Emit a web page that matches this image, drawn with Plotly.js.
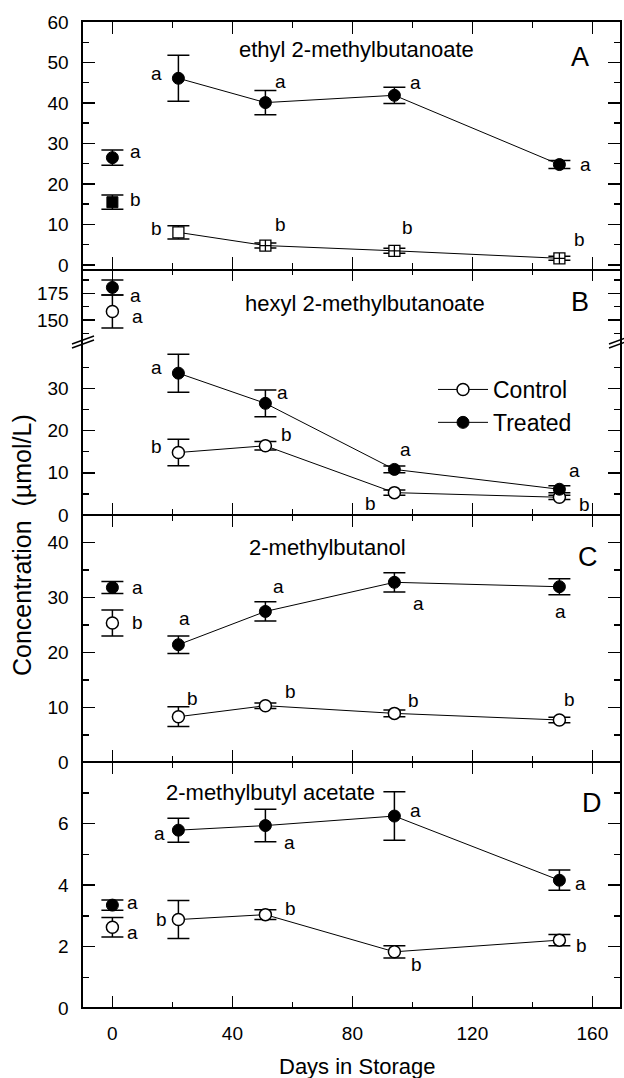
<!DOCTYPE html>
<html>
<head>
<meta charset="utf-8">
<script src="https://cdn.plot.ly/plotly-3.0.1.min.js"></script>
<style>html,body{margin:0;padding:0;background:#fff;}#chart{width:624px;height:1078px;}</style>
</head>
<body>
<div id="chart"></div>
<script>
// ---------------- data ----------------
const days = [0, 22, 51, 94, 149];

// Panel A: ethyl 2-methylbutanoate
const aTreated = [26.5, 46.1, 40.1, 41.9, 24.8];
const aTreatedErr = [1.9, 5.7, 3.0, 2.0, 1.0];
const aControl = [15.5, 8.05, 4.8, 3.5, 1.65];
const aControlErr = [1.75, 1.65, 0.6, 0.6, 0.5];
const aTreatedLetters = ['a', 'a', 'a', 'a', 'a'];
const aControlLetters = ['b', 'b', 'b', 'b', 'b'];

// Panel B: hexyl 2-methylbutanoate
const bTreated = [180.5, 33.6, 26.45, 10.8, 6.1];
const bTreatedErr = [7, 4.5, 3.15, 0.8, 0.8];
const bControl = [158, 14.8, 16.4, 5.3, 4.2];
const bControlErr = [15.5, 3.15, 1.0, 0.6, 0.5];
const bTreatedLetters = ['a', 'a', 'a', 'a', 'a'];
const bControlLetters = ['a', 'b', 'b', 'b', 'b'];

// Panel C: 2-methylbutanol
const cTreated = [31.8, 21.4, 27.45, 32.75, 31.95];
const cTreatedErr = [1.1, 1.6, 1.75, 1.75, 1.45];
const cControl = [25.35, 8.3, 10.3, 8.9, 7.7];
const cControlErr = [2.35, 1.8, 0.5, 0.6, 0.5];
const cTreatedLetters = ['a', 'a', 'a', 'a', 'a'];
const cControlLetters = ['b', 'b', 'b', 'b', 'b'];

// Panel D: 2-methylbutyl acetate
const dTreated = [3.35, 5.79, 5.94, 6.25, 4.16];
const dTreatedErr = [0.17, 0.39, 0.53, 0.79, 0.33];
const dControl = [2.63, 2.88, 3.04, 1.83, 2.21];
const dControlErr = [0.32, 0.62, 0.16, 0.2, 0.18];
const dTreatedLetters = ['a', 'a', 'a', 'a', 'a'];
const dControlLetters = ['a', 'b', 'b', 'b', 'b'];

const panelTitles = ['ethyl 2-methylbutanoate', 'hexyl 2-methylbutanoate', '2-methylbutanol', '2-methylbutyl acetate'];
const panelLetters = ['A', 'B', 'C', 'D'];
const seriesNames = ['Control', 'Treated'];
const xTickVals = [0, 40, 80, 120, 160];
const xTickText = ['0', '40', '80', '120', '160'];
const yTitle = 'Concentration  (\u00b5mol/L)';
const xTitle = 'Days in Storage';

// ---------------- layout helpers (pixel geometry) ----------------
const FONT = 'Liberation Sans, Arial, Helvetica, sans-serif';
const W = 624, H = 1078;
const M = {l: 83, r: 4, t: 22, b: 70};
const PW = W - M.l - M.r, PH = H - M.t - M.b;
const px = x => (x - M.l) / PW;        // pixel -> paper x
const py = y => (H - M.b - y) / PH;    // pixel -> paper y

// letter offsets in px [dx, dy(up)] — style only
const aTOff = [[23, 6], [-22, 5], [15, 21], [21, 13], [26, 0]];
const aCOff = [[23, 3], [-22, 4], [15, 21], [13, 23], [20, 19]];
const bTOff = [[23, -8], [-22, 6], [17, 11], [11, 20], [15, 19]];
const bCOff = [[25, -5], [-22, 6], [21, 11], [-24, -11], [25, -7]];
const cTOff = [[25, 0], [6, 26], [13, 25], [24, -21], [1, -25]];
const cCOff = [[25, 0], [14, 18], [25, 14], [19, 13], [10, 20]];
const dTOff = [[20, 3], [-19, -3], [24, -17], [21, 6], [21, -3]];
const dCOff = [[20, -5], [-17, 0], [25, 6], [22, -13], [22, -5]];

const traces = [];
const annotations = [];

const treatedMarker = {symbol: 'circle', size: 12, color: 'black', line: {color: 'black', width: 1}};
const controlMarker = {symbol: 'circle', size: 12, color: 'white', line: {color: 'black', width: 1.5}};

function err(arr) {
  return {type: 'data', array: arr, visible: true, color: 'black', thickness: 1.5, width: 11};
}

// series: day-0 marker (unconnected) + connected storage points
function addSeries(vals, errs, xa, ya, xa0, ya0, marker0, markerLine, name, showlegend) {
  traces.push({
    x: days.slice(1), y: vals.slice(1), error_y: err(errs.slice(1)),
    xaxis: xa, yaxis: ya, mode: 'lines+markers', name: name, showlegend: showlegend,
    line: {color: 'black', width: 1}, marker: markerLine, hoverinfo: 'x+y'
  });
  traces.push({
    x: days.slice(0, 1), y: vals.slice(0, 1), error_y: err(errs.slice(0, 1)),
    xaxis: xa0, yaxis: ya0, mode: 'markers', name: name, showlegend: false,
    marker: marker0, hoverinfo: 'x+y'
  });
}

function addLetters(vals, letters, offs, xa, ya, xa0, ya0) {
  for (let i = 0; i < days.length; i++) {
    annotations.push({
      x: days[i], y: vals[i], xref: i === 0 ? xa0 : xa, yref: i === 0 ? ya0 : ya,
      text: letters[i], showarrow: false, xshift: offs[i][0], yshift: offs[i][1],
      font: {family: FONT, size: 19, color: 'black'}
    });
  }
}

// Legend order: Control then Treated (panel B carries the legend)
addSeries(bControl, bControlErr, 'x3', 'y3', 'x4', 'y4', controlMarker, controlMarker, seriesNames[0], true);
addSeries(bTreated, bTreatedErr, 'x3', 'y3', 'x4', 'y4', treatedMarker, treatedMarker, seriesNames[1], true);

addSeries(aTreated, aTreatedErr, 'x5', 'y5', 'x5', 'y5', treatedMarker, treatedMarker, seriesNames[1], false);
addSeries(aControl, aControlErr, 'x5', 'y5', 'x5', 'y5',
  {symbol: 'square', size: 11, color: 'black', line: {color: 'black', width: 1}},
  {symbol: ['square', 'square-cross', 'square-cross', 'square-cross'], size: 11, color: 'white', line: {color: 'black', width: 1.3}},
  seriesNames[0], false);
addSeries(cTreated, cTreatedErr, 'x2', 'y2', 'x2', 'y2', treatedMarker, treatedMarker, seriesNames[1], false);
addSeries(cControl, cControlErr, 'x2', 'y2', 'x2', 'y2', controlMarker, controlMarker, seriesNames[0], false);
addSeries(dTreated, dTreatedErr, 'x', 'y', 'x', 'y', treatedMarker, treatedMarker, seriesNames[1], false);
addSeries(dControl, dControlErr, 'x', 'y', 'x', 'y', controlMarker, controlMarker, seriesNames[0], false);

addLetters(aTreated, aTreatedLetters, aTOff, 'x5', 'y5', 'x5', 'y5');
addLetters(aControl, aControlLetters, aCOff, 'x5', 'y5', 'x5', 'y5');
addLetters(bTreated, bTreatedLetters, bTOff, 'x3', 'y3', 'x4', 'y4');
addLetters(bControl, bControlLetters, bCOff, 'x3', 'y3', 'x4', 'y4');
addLetters(cTreated, cTreatedLetters, cTOff, 'x2', 'y2', 'x2', 'y2');
addLetters(cControl, cControlLetters, cCOff, 'x2', 'y2', 'x2', 'y2');
addLetters(dTreated, dTreatedLetters, dTOff, 'x', 'y', 'x', 'y');
addLetters(dControl, dControlLetters, dCOff, 'x', 'y', 'x', 'y');

// panel titles & letters
const titlePos = [[356, 50], [365, 303], [327, 547], [270, 792]];
const letterPos = [[580, 57], [580, 302], [588, 557], [592, 803]];
for (let i = 0; i < 4; i++) {
  annotations.push({x: px(titlePos[i][0]), y: py(titlePos[i][1]), xref: 'paper', yref: 'paper',
    text: panelTitles[i], showarrow: false, xanchor: 'center', yanchor: 'middle',
    font: {family: FONT, size: 22, color: 'black'}});
  annotations.push({x: px(letterPos[i][0]), y: py(letterPos[i][1]), xref: 'paper', yref: 'paper',
    text: panelLetters[i], showarrow: false, xanchor: 'center', yanchor: 'middle',
    font: {family: FONT, size: 27, color: 'black'}});
}
annotations.push({x: px(22), y: py(545), xref: 'paper', yref: 'paper', text: yTitle, textangle: -90,
  showarrow: false, xanchor: 'center', yanchor: 'middle', font: {family: FONT, size: 25, color: 'black'}});
annotations.push({x: px(357), y: py(1066), xref: 'paper', yref: 'paper', text: xTitle,
  showarrow: false, xanchor: 'center', yanchor: 'middle', font: {family: FONT, size: 22, color: 'black'}});

// axis break marks (//) on left and right of panel B; plus bottom frame edge
const shapes = [];
const breakY = 342;
[M.l, W - M.r].forEach(ax => {
  [-2, 2].forEach(off => {
    shapes.push({type: 'line', xref: 'paper', yref: 'paper',
      x0: px(ax - 11), y0: py(breakY + 4 + off), x1: px(ax + 11), y1: py(breakY - 4 + off),
      line: {color: 'black', width: 1.5}});
  });
});
shapes.push({type: 'line', xref: 'paper', yref: 'paper', x0: 0, x1: 1, y0: 0, y1: 0,
  line: {color: 'black', width: 2}});

// axes
const XR = [-9.8, 169.2];
function xaxis(anchor, opts) {
  return Object.assign({
    range: XR, domain: [0, 1], anchor: anchor, showline: true, linecolor: 'black', linewidth: 1,
    mirror: 'ticks', ticks: 'inside', ticklen: 12, tickwidth: 1.5, tickcolor: 'black',
    tickmode: 'array', tickvals: xTickVals, ticktext: xTickText, showticklabels: false,
    minor: {tickmode: 'array', tickvals: [20, 60, 100, 140], ticks: 'inside', ticklen: 6, tickwidth: 1.5, tickcolor: 'black'},
    showgrid: false, zeroline: false, fixedrange: true,
    tickfont: {family: FONT, size: 19, color: 'black'}
  }, opts || {});
}
function yaxis(anchor, domain, range, major, minor) {
  return {
    range: range, domain: domain, anchor: anchor, showline: true, linecolor: 'black', linewidth: 1.6,
    mirror: 'ticks', ticks: 'inside', ticklen: 12, tickwidth: 1.5, tickcolor: 'black',
    tickmode: 'array', tickvals: major, ticktext: major.map(String),
    minor: {tickmode: 'array', tickvals: minor, ticks: 'inside', ticklen: 6, tickwidth: 1.5, tickcolor: 'black'},
    showgrid: false, zeroline: false, fixedrange: true, ticklabelstandoff: 9,
    tickfont: {family: FONT, size: 19, color: 'black'}
  };
}

const yA = [py(268.5), 1];
const yBu = [py(341.5), py(268.5)];
const yBl = [py(515), py(341.5)];
const yC = [py(762.3), py(515)];
const yD = [0, py(762.3)];

const layout = {
  width: W, height: H, margin: M, paper_bgcolor: 'white', plot_bgcolor: 'white',
  font: {family: FONT, color: 'black'},
  showlegend: true,
  legend: {x: px(433), y: py(368), xanchor: 'left', yanchor: 'top', bgcolor: 'rgba(0,0,0,0)',
    font: {family: FONT, size: 23, color: 'black'}, itemwidth: 50, tracegroupgap: 0},
  xaxis: xaxis('y', {showticklabels: true, ticklabelstandoff: 8}),
  xaxis2: xaxis('y2'),
  xaxis3: xaxis('y3', {mirror: false, side: 'bottom'}),
  xaxis4: xaxis('y4', {mirror: false, side: 'top', showline: false}),
  xaxis5: xaxis('y5', {linewidth: 2}),
  yaxis: yaxis('x', yD, [0, 8], [0, 2, 4, 6], [1, 3, 5, 7]),
  yaxis2: yaxis('x2', yC, [0, 45], [0, 10, 20, 30, 40], [5, 15, 25, 35]),
  yaxis3: yaxis('x3', yBl, [0, 41.1], [0, 10, 20, 30], [5, 15, 25, 35]),
  yaxis4: yaxis('x4', yBu, [129.9, 198.2], [150, 175], [137.5, 162.5, 187.5]),
  yaxis5: yaxis('x5', yA, [-0.87, 60], [0, 10, 20, 30, 40, 50, 60], [5, 15, 25, 35, 45, 55]),
  annotations: annotations,
  shapes: shapes
};

Plotly.newPlot('chart', traces, layout, {displayModeBar: false, staticPlot: true});
</script>
</body>
</html>
